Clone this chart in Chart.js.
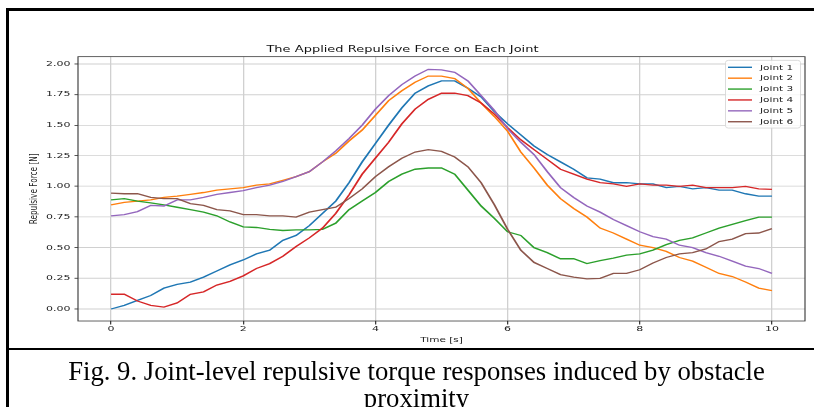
<!DOCTYPE html>
<html><head><meta charset="utf-8">
<script src="https://cdn.jsdelivr.net/npm/chart.js@4.4.1/dist/chart.umd.min.js"></script>
<style>
html,body{margin:0;padding:0;background:#fff;overflow:hidden;width:814px;height:407px;}
#c{position:absolute;left:0;top:0;width:814px;height:500px;display:block;}
.rule{position:absolute;background:#000;}
#caption{position:absolute;left:19px;width:795px;top:357.5px;font-family:"Liberation Serif","Times New Roman",serif;font-size:26.7px;line-height:27px;text-align:center;color:#000;white-space:nowrap;}
</style></head><body>
<canvas id="c" width="814" height="500"></canvas>
<div class="rule" style="left:6px;top:8px;width:808px;height:3px"></div>
<div class="rule" style="left:6px;top:8px;width:3px;height:399px"></div>
<div class="rule" style="left:7px;top:347.5px;width:807px;height:2px"></div>
<div id="caption">Fig. 9. Joint-level repulsive torque responses induced by obstacle<br>proximity</div>
<script>
const time = [0,0.2,0.4,0.6,0.8,1,1.2,1.4,1.6,1.8,2,2.2,2.4,2.6,2.8,3,3.2,3.4,3.6,3.8,4,4.2,4.4,4.6,4.8,5,5.2,5.4,5.6,5.8,6,6.2,6.4,6.6,6.8,7,7.2,7.4,7.6,7.8,8,8.2,8.4,8.6,8.8,9,9.2,9.4,9.6,9.8,10];
const joint1 = [0.00,0.03,0.07,0.11,0.17,0.20,0.22,0.26,0.31,0.36,0.40,0.45,0.48,0.56,0.60,0.68,0.78,0.88,1.03,1.20,1.35,1.50,1.64,1.76,1.82,1.86,1.86,1.80,1.73,1.61,1.51,1.42,1.33,1.26,1.20,1.14,1.07,1.06,1.03,1.03,1.02,1.02,0.99,1.00,0.98,0.99,0.97,0.97,0.94,0.92,0.92];
const joint2 = [0.85,0.87,0.88,0.89,0.91,0.92,0.935,0.95,0.97,0.98,0.99,1.01,1.02,1.05,1.08,1.12,1.20,1.27,1.37,1.46,1.58,1.70,1.78,1.85,1.90,1.90,1.88,1.80,1.68,1.57,1.45,1.28,1.15,1.01,0.90,0.82,0.75,0.66,0.62,0.57,0.52,0.50,0.47,0.42,0.39,0.34,0.29,0.265,0.22,0.17,0.15];
const joint3 = [0.89,0.90,0.88,0.865,0.85,0.83,0.81,0.79,0.76,0.71,0.67,0.665,0.65,0.64,0.645,0.645,0.65,0.70,0.81,0.88,0.95,1.04,1.10,1.14,1.15,1.15,1.10,0.97,0.84,0.74,0.63,0.60,0.50,0.46,0.41,0.41,0.37,0.395,0.415,0.44,0.45,0.48,0.525,0.56,0.58,0.62,0.66,0.69,0.72,0.75,0.75];
const joint4 = [0.12,0.12,0.065,0.03,0.015,0.05,0.12,0.14,0.195,0.225,0.27,0.33,0.37,0.43,0.51,0.58,0.66,0.78,0.93,1.10,1.23,1.36,1.51,1.63,1.71,1.76,1.76,1.74,1.68,1.59,1.48,1.38,1.30,1.22,1.14,1.10,1.06,1.03,1.02,1.00,1.02,1.01,1.01,1.00,1.01,0.99,0.99,0.99,1.00,0.98,0.975];
const joint5 = [0.76,0.77,0.795,0.845,0.84,0.89,0.89,0.91,0.935,0.95,0.965,0.99,1.01,1.04,1.08,1.12,1.20,1.29,1.39,1.50,1.63,1.74,1.83,1.90,1.955,1.95,1.93,1.86,1.74,1.62,1.47,1.36,1.26,1.12,0.99,0.91,0.84,0.79,0.73,0.68,0.63,0.59,0.57,0.52,0.50,0.46,0.43,0.39,0.35,0.33,0.29];
const joint6 = [0.945,0.94,0.94,0.91,0.90,0.90,0.86,0.845,0.81,0.80,0.77,0.77,0.76,0.76,0.75,0.79,0.81,0.83,0.90,0.98,1.08,1.16,1.23,1.28,1.30,1.285,1.24,1.16,1.03,0.85,0.65,0.48,0.38,0.33,0.28,0.26,0.245,0.25,0.29,0.29,0.32,0.375,0.42,0.45,0.46,0.49,0.55,0.57,0.615,0.62,0.655];
const seriesNames = ['Joint 1','Joint 2','Joint 3','Joint 4','Joint 5','Joint 6'];
const seriesValues = [joint1, joint2, joint3, joint4, joint5, joint6];
const seriesColors = ['#1f77b4','#ff7f0e','#2ca02c','#d62728','#9467bd','#8c564b'];
const xTicks = [0,2,4,6,8,10];
const yTicks = [0,0.25,0.5,0.75,1.0,1.25,1.5,1.75,2.0];

const SQUASH = 0.698;

const datasets = seriesValues.map((vals, i) => ({
  label: seriesNames[i],
  data: time.map((t, k) => ({x: t, y: vals[k]})),
  borderColor: seriesColors[i],
  backgroundColor: seriesColors[i],
  borderWidth: 1.9,
  pointRadius: 0,
  tension: 0,
  fill: false,
  order: seriesValues.length - i
}));

const framePlugin = {
  id: 'frame',
  afterDatasetsDraw(chart) {
    const a = chart.chartArea, ctx = chart.ctx;
    ctx.save();
    ctx.strokeStyle = '#333';
    ctx.lineWidth = 1.1;
    ctx.strokeRect(a.left, a.top, a.right - a.left, a.bottom - a.top);
    ctx.restore();
  }
};
const legendPlugin = {
  id: 'boxLegend',
  afterDraw(chart) {
    const ctx = chart.ctx, a = chart.chartArea;
    const L = a.right - 80, T = 86, W = 75, H = 97;
    ctx.save();
    ctx.beginPath();
    ctx.roundRect(L + 0.5, T + 0.5, W, H, 3);
    ctx.fillStyle = 'rgba(255,255,255,0.85)';
    ctx.fill();
    ctx.strokeStyle = '#d6d6d6';
    ctx.lineWidth = 1;
    ctx.stroke();
    ctx.font = '10.5px "DejaVu Sans"';
    ctx.textBaseline = 'middle';
    ctx.textAlign = 'left';
    chart.data.datasets.forEach((d, i) => {
      const y = T + 10.4 + 15.6 * i;
      ctx.strokeStyle = d.borderColor;
      ctx.lineWidth = 2;
      ctx.beginPath();
      ctx.moveTo(L + 3, y);
      ctx.lineTo(L + 27, y);
      ctx.stroke();
      ctx.fillStyle = '#222';
      ctx.fillText(d.label, L + 35, y + 0.5);
    });
    ctx.restore();
  }
};
const squashPlugin = {
  id: 'squash',
  beforeDraw(chart) { chart.ctx.save(); chart.ctx.setTransform(1, 0, 0, SQUASH, 0, 0); },
  afterDraw(chart) { chart.ctx.restore(); }
};

const canvas = document.getElementById('c');
const chart = new Chart(canvas, {
  type: 'line',
  data: { datasets },
  plugins: [framePlugin, legendPlugin, squashPlugin],
  options: {
    responsive: false,
    animation: false,
    devicePixelRatio: 1,
    layout: { padding: { left: 0, right: 9, top: 0, bottom: 0 } },
    plugins: {
      legend: { display: false },
      tooltip: { enabled: false },
      title: {
        display: true,
        text: 'The Applied Repulsive Force on Each Joint',
        color: '#111',
        font: { family: 'DejaVu Sans', size: 13, weight: 'normal' },
        padding: { top: 63.8, bottom: 1.8 }
      }
    },
    scales: {
      x: {
        type: 'linear', min: -0.5, max: 10.5,
        afterBuildTicks: s => { s.ticks = xTicks.map(v => ({ value: v })); },
        afterFit: s => { s.height = 40.1; },
        ticks: { font: { family: 'DejaVu Sans', size: 11 }, color: '#222', padding: 0.3, maxRotation: 0, autoSkip: false, callback: v => String(v) },
        grid: { color: '#d0d0d0', lineWidth: 1.3, tickLength: 5, tickColor: '#333', tickWidth: 1.2 },
        border: { display: false },
        title: { display: true, text: 'Time [s]', color: '#222', font: { family: 'DejaVu Sans', size: 10.5 }, padding: { top: 0, bottom: 7 } }
      },
      y: {
        type: 'linear', min: -0.098, max: 2.058,
        afterBuildTicks: s => { s.ticks = yTicks.map(v => ({ value: v })); },
        afterFit: s => { s.width = 78; },
        ticks: { font: { family: 'DejaVu Sans', size: 11 }, color: '#222', padding: 4, autoSkip: false, callback: v => Number(v).toFixed(2) },
        grid: { color: '#d0d0d0', lineWidth: 1.3, tickLength: 3.5, tickColor: '#333', tickWidth: 1.2 },
        border: { display: false },
        title: { display: true, text: 'Repulsive Force [N]', color: '#222', font: { family: 'DejaVu Sans', size: 10.5 }, padding: { top: 28.2, bottom: 0 } }
      }
    }
  }
});
canvas.height = 349;
canvas.style.height = '349px';
chart.draw();
</script>
</body></html>
